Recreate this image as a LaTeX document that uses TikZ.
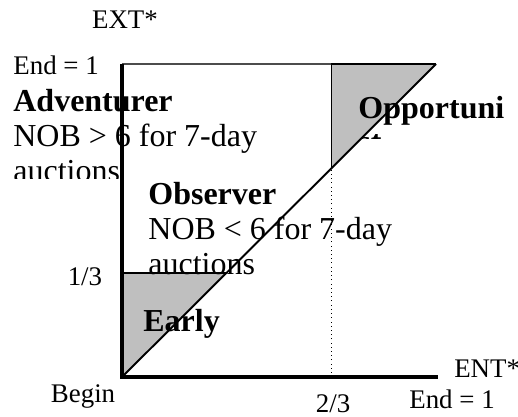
\documentclass[tikz,border=0pt]{standalone}
\usepackage{fontspec}
\setmainfont{Liberation Serif}

\begin{document}
\begin{tikzpicture}[x=6.28cm,y=6.26cm,
    lbl/.style={inner sep=0pt, anchor=base west, font=\fontsize{18.2}{21}\selectfont},
    hd/.style={lbl, font=\fontsize{18.2}{21}\selectfont\bfseries},
    tick/.style={lbl, font=\fontsize{15.3}{18}\selectfont},
    zone/.style={fill=black!25},
    axis/.style={line width=1.8pt},
]
\useasboundingbox (-0.3885,-0.1246) rectangle (1.2611,1.2045);

\coordinate (begin) at (0,0);
\coordinate (entend) at (1.006,0);
\coordinate (extend) at (0,1);
\coordinate (corner) at (1,1);
\coordinate (third) at (0,1/3);
\coordinate (thirddiag) at (1/3,1/3);
\coordinate (twothirds) at (2/3,0);
\coordinate (twodiag) at (2/3,2/3);
\coordinate (twotop) at (2/3,1);

\fill[zone] (begin) -- (third) -- (thirddiag) -- cycle;
\fill[zone] (twodiag) -- (twotop) -- (corner) -- cycle;

\node[tick, anchor=base] (ext) at (0.0096,1.112) {EXT*};
\node[tick] (endext) at (-0.347,0.965) {End = 1};
\node[hd] (adv) at (-0.347,0.847) {Adventurer};
\node[lbl] (advnob) at (-0.347,0.735) {NOB > 6 for 7-day};
\begin{scope}
  \clip (-0.39,0.633) rectangle (0.3,0.72);
  \node[lbl] (advauc) at (-0.347,0.626) {auctions};
\end{scope}
\node[hd] (obs) at (0.083,0.550) {Observer};
\node[lbl] (obsnob) at (0.083,0.438) {NOB < 6 for 7-day};
\begin{scope}
  \clip (0.05,0.329) rectangle (0.7,0.41);
  \node[lbl] (obsauc) at (0.083,0.326) {auctions};
\end{scope}
\node[hd] (opp) at (0.752,0.827) {Opportuni};
\begin{scope}
  \clip (0.72,0.763) rectangle (1.2,0.80);
  \node[hd] (oppst) at (0.752,0.717) {st};
\end{scope}
\node[hd] (early) at (0.067,0.144) {Early};
\node[tick, anchor=base] (onethird) at (-0.118,0.293) {1/3};
\node[tick, anchor=base] (begintxt) at (-0.124,-0.080) {Begin};
\node[tick, anchor=base] (twothird) at (0.672,-0.112) {2/3};
\node[tick] (endent) at (0.914,-0.099) {End = 1};
\node[tick] (ent) at (1.057,-0.003) {ENT*};

\draw[dotted, thin] (twothirds) -- (twodiag);
\draw[black!70, line width=0.7pt] (extend) -- (twotop);
\draw[line width=0.6pt] (twodiag) -- (twotop);
\draw[line width=1.2pt] (twotop) -- (corner);
\draw[line width=1.1pt] (begin) -- (corner);
\draw[line width=1pt] (third) -- (thirddiag);
\draw[axis] (extend) -- (begin) -- (entend);

\end{tikzpicture}
\end{document}
